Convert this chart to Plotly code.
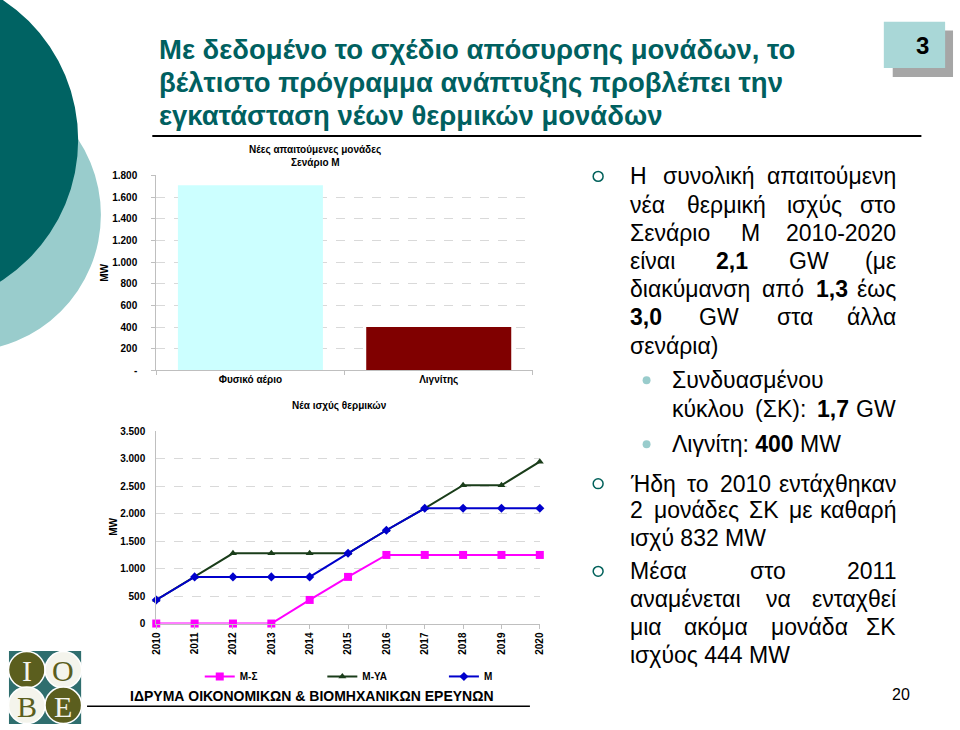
import re
import plotly.graph_objects as go

W, H = 960, 730
def X(px): return px / W
def Y(py): return 1 - py / H

# ---------------- data ----------------
bar_categories = ["Φυσικό αέριο", "Λιγνίτης"]
bar_values = [1710, 400]
bar_colors = ["#CCFFFF", "#800000"]
bar_ticks = [0, 200, 400, 600, 800, 1000, 1200, 1400, 1600, 1800]
bar_ticktext = ["-", "200", "400", "600", "800", "1.000", "1.200", "1.400", "1.600", "1.800"]

years = [2010, 2011, 2012, 2013, 2014, 2015, 2016, 2017, 2018, 2019, 2020]
m_sigma = [0, 0, 0, 0, 430, 850, 1250, 1250, 1250, 1250, 1250]
m_ya = [430, 850, 1280, 1280, 1280, 1280, 1700, 2100, 2520, 2520, 2950]
m_base = [430, 850, 850, 850, 850, 1280, 1700, 2100, 2100, 2100, 2100]
line_ticks = [0, 500, 1000, 1500, 2000, 2500, 3000, 3500]
line_ticktext = ["0", "500", "1.000", "1.500", "2.000", "2.500", "3.000", "3.500"]

CH = "Liberation Sans, Arial, sans-serif"
lab = dict(family=CH, size=10, color="#000000", weight="bold")
grid = "#D9D9D9"
axc = "#BFBFBF"

fig = go.Figure()
fig.add_trace(go.Bar(x=bar_categories, y=bar_values, marker=dict(color=bar_colors, line=dict(width=0)),
                     width=0.77, showlegend=False, xaxis="x", yaxis="y"))

fig.add_trace(go.Scatter(x=years, y=m_sigma, name="Μ-Σ", mode="lines+markers", legend="legend",
                         line=dict(color="#FF00FF", width=2), marker=dict(symbol="square", size=8, color="#FF00FF"),
                         xaxis="x2", yaxis="y2", cliponaxis=False))
fig.add_trace(go.Scatter(x=years, y=m_ya, name="Μ-ΥΑ", mode="lines+markers", legend="legend2",
                         line=dict(color="#1A3D1A", width=2), marker=dict(symbol="triangle-up", size=7, color="#1A3D1A"),
                         xaxis="x2", yaxis="y2", cliponaxis=False))
fig.add_trace(go.Scatter(x=years, y=m_base, name="Μ", mode="lines+markers", legend="legend3",
                         line=dict(color="#0000CC", width=2), marker=dict(symbol="diamond", size=7, color="#0000CC"),
                         xaxis="x2", yaxis="y2", cliponaxis=False))

shapes = []
# decorative circles top-left
shapes.append(dict(type="circle", xref="paper", yref="paper", layer="below",
                   x0=X(-42.75 - 138.75), x1=X(-42.75 + 138.75), y0=Y(213 + 138.75), y1=Y(213 - 138.75),
                   fillcolor="#99CCCC", line=dict(width=0)))
shapes.append(dict(type="circle", xref="paper", yref="paper", layer="below",
                   x0=X(-97.7 - 170.7), x1=X(-97.7 + 170.7), y0=Y(137 + 170.7), y1=Y(137 - 170.7),
                   fillcolor="#006363", line=dict(width=0)))
# title rule and footer rule
shapes.append(dict(type="line", xref="paper", yref="paper", x0=X(148), x1=X(926), y0=Y(133), y1=Y(133),
                   line=dict(color="#000000", width=2)))
shapes.append(dict(type="line", xref="paper", yref="paper", x0=X(82), x1=X(530), y0=Y(712), y1=Y(712),
                   line=dict(color="#000000", width=1.5)))
# slide number box with shadow
shapes.append(dict(type="rect", xref="paper", yref="paper", x0=X(897), x1=X(958), y0=Y(73), y1=Y(26),
                   fillcolor="#A6A6A6", line=dict(width=0)))
shapes.append(dict(type="rect", xref="paper", yref="paper", x0=X(888), x1=X(950), y0=Y(64), y1=Y(17),
                   fillcolor="#A9D7D7", line=dict(width=0)))
# logo
shapes.append(dict(type="rect", xref="paper", yref="paper", x0=X(3), x1=X(76), y0=Y(730), y1=Y(656),
                   fillcolor="#2F6E6E", line=dict(width=0)))
logo = [(21, 675, "#5B5E1E"), (58, 675, "#F4F4EC"), (21, 711, "#F4F4EC"), (58, 711, "#5B5E1E")]
for cx, cy, fc in logo:
    shapes.append(dict(type="circle", xref="paper", yref="paper", x0=X(cx - 18.5), x1=X(cx + 18.5),
                       y0=Y(cy + 18.5), y1=Y(cy - 18.5), fillcolor=fc, line=dict(color="#FFFFFF", width=1.5)))
# bullets
for by in [174, 486, 575]:
    shapes.append(dict(type="circle", xref="paper", yref="paper", x0=X(594), x1=X(604), y0=Y(by + 5), y1=Y(by - 5),
                       line=dict(color="#00605A", width=1.5)))
for by in [381, 446]:
    shapes.append(dict(type="circle", xref="paper", yref="paper", x0=X(644), x1=X(652), y0=Y(by + 4), y1=Y(by - 4),
                       fillcolor="#99CCCC", line=dict(width=0)))

ann = []
def A(text, x, y, size, color="#000000", xanchor="left", family=CH, weight="normal", angle=0):
    ann.append(dict(text=text, x=X(x), y=Y(y), xref="paper", yref="paper", xanchor=xanchor, yanchor="middle",
                    showarrow=False, textangle=angle, font=dict(family=family, size=size, color=color, weight=weight)))

# title
for t, yy in [("Με δεδομένο το σχέδιο απόσυρσης μονάδων, το", 45),
              ("βέλτιστο πρόγραμμα ανάπτυξης προβλέπει την", 79),
              ("εγκατάσταση νέων θερμικών μονάδων", 112)]:
    A(t, 153, yy, 27.5, color="#006060", weight="bold")
A("3", 919, 41, 24, weight="bold")
A("ΙΔΡΥΜΑ ΟΙΚΟΝΟΜΙΚΩΝ & ΒΙΟΜΗΧΑΝΙΚΩΝ ΕΡΕΥΝΩΝ", 123, 702, 14, weight="bold")
A("20", 905, 700, 16, xanchor="center")
# logo letters
for (cx, cy, fc), letter in zip(logo, ["I", "O", "B", "E"]):
    A(letter, cx, cy + 1, 30, color="#F4F4EC" if fc != "#F4F4EC" else "#5B5E1E", xanchor="center",
      family="Liberation Serif, DejaVu Serif, serif")

# chart texts
A("Νέες απαιτούμενες μονάδες", 313, 147, 10, weight="bold", xanchor="center")
A("Σενάριο Μ", 313, 160, 10, weight="bold", xanchor="center")
A("MW", 100, 272, 10, weight="bold", xanchor="center", angle=-90)
A("MW", 108, 530, 10, weight="bold", xanchor="center", angle=-90)
A("Νέα ισχύς θερμικών", 337, 407, 10, weight="bold", xanchor="center")

# ---------- right-hand justified text ----------
CW = {}
for ch, w in {"α": .578, "β": .575, "γ": .5, "δ": .557, "ε": .446, "ζ": .441, "η": .556, "θ": .556, "ι": .222,
              "κ": .5, "λ": .5, "μ": .576, "ν": .5, "ξ": .447, "ο": .556, "π": .69, "ρ": .57, "σ": .617,
              "ς": .482, "τ": .395, "υ": .547, "φ": .647, "χ": .524, "ψ": .712, "ω": .781,
              "ά": .578, "έ": .446, "ή": .556, "ί": .222, "ό": .556, "ύ": .547, "ώ": .781,
              "Η": .722, "Ή": .85, "Σ": .618, "Μ": .833, "Κ": .667, "Λ": .667, "M": .833, "W": .944, "G": .778,
              ",": .278, " ": .278, "(": .333, ")": .333, ":": .278, "-": .333}.items():
    CW[ch] = w
for d in "0123456789":
    CW[d] = .556

TS = 23
RIGHT = 902
def width(word):
    plain = re.sub(r"<[^>]+>", "", word)
    return sum(CW.get(c, .55) for c in plain) * TS

body = [
    (174, 629, ["Η", "συνολική", "απαιτούμενη"], True),
    (203, 629, ["νέα", "θερμική", "ισχύς", "στο"], True),
    (231, 629, ["Σενάριο", "Μ", "2010-2020"], True),
    (260, 629, ["είναι", "<b>2,1</b>", "GW", "(με"], True),
    (288, 629, ["διακύμανση", "από", "<b>1,3</b>", "έως"], True),
    (317, 629, ["<b>3,0</b>", "GW", "στα", "άλλα"], True),
    (346, 629, ["σενάρια)"], False),
    (381, 672, ["Συνδυασμένου"], False),
    (410, 672, ["κύκλου", "(ΣΚ):", "<b>1,7</b>", "GW"], True),
    (446, 672, ["Λιγνίτη: <b>400</b> MW"], False),
    (486, 629, ["Ήδη", "το", "2010", "εντάχθηκαν"], True),
    (513, 629, ["2", "μονάδες", "ΣΚ", "με", "καθαρή"], True),
    (541, 629, ["ισχύ 832 MW"], False),
    (575, 629, ["Μέσα", "στο", "2011"], True),
    (603, 629, ["αναμένεται", "να", "ενταχθεί"], True),
    (632, 629, ["μια", "ακόμα", "μονάδα", "ΣΚ"], True),
    (660, 629, ["ισχύος 444 MW"], False),
]
for yy, x0, words, just in body:
    if just and len(words) > 1:
        ws = [width(w) for w in words]
        gap = (RIGHT - x0 - sum(ws)) / (len(words) - 1)
        xx = x0
        for i, w in enumerate(words):
            if i == len(words) - 1:
                A(w, RIGHT, yy, TS, xanchor="right")
            else:
                A(w, xx, yy, TS, xanchor="left")
            xx += ws[i] + gap
    else:
        A(" ".join(words), x0, yy, TS, xanchor="left")

leg = dict(orientation="h", y=Y(667), xanchor="left", yanchor="top", font=lab,
           bgcolor="rgba(0,0,0,0)", itemwidth=30)

fig.update_layout(
    width=W, height=H, margin=dict(l=0, r=0, t=0, b=0),
    paper_bgcolor="#FFFFFF", plot_bgcolor="#FFFFFF",
    shapes=shapes, annotations=ann, bargap=0.23,
    xaxis=dict(domain=[X(152), X(533)], type="category", tickson="boundaries", showline=True, linecolor=axc,
               ticks="outside", ticklen=4, tickcolor=axc, tickfont=lab, showgrid=False, anchor="y"),
    yaxis=dict(domain=[Y(371), Y(173)], range=[0, 1800], tickvals=bar_ticks, ticktext=bar_ticktext,
               showline=True, linecolor=axc, ticks="outside", ticklen=4, tickcolor=axc, tickfont=lab,
               ticklabelstandoff=12,
               gridcolor=grid, griddash="dash", gridwidth=1, zeroline=False, anchor="x"),
    xaxis2=dict(domain=[X(152), X(540)], range=[2010, 2020], tickvals=years, ticktext=[str(v) for v in years],
                tickangle=-90, showline=True, linecolor=axc, ticks="outside", ticklen=4, tickcolor=axc,
                tickfont=lab, showgrid=False, zeroline=False, anchor="y2"),
    yaxis2=dict(domain=[Y(628), Y(433)], range=[0, 3500], tickvals=line_ticks, ticktext=line_ticktext,
                showline=True, linecolor=axc, ticks="", tickfont=lab, ticklabelstandoff=8,
                gridcolor=grid, griddash="dash", gridwidth=1, zeroline=False, anchor="x2"),
    legend=dict(leg, x=X(196)),
    legend2=dict(leg, x=X(320)),
    legend3=dict(leg, x=X(443)),
)

fig.write_html("out.html")
